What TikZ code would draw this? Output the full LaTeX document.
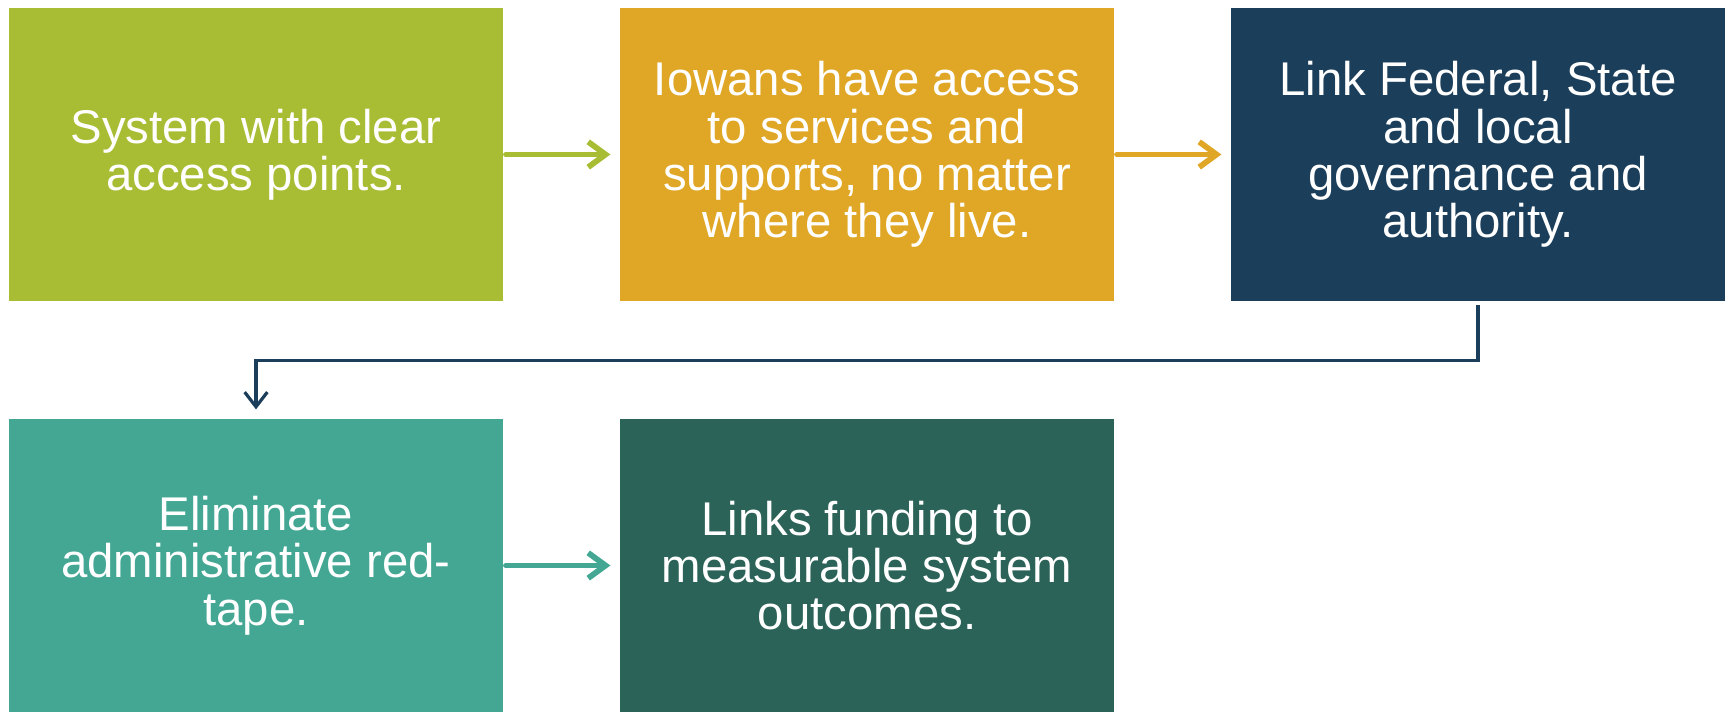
\documentclass[tikz,border=0pt]{standalone}
\usepackage{fontspec}
\setmainfont{Liberation Sans}
\usetikzlibrary{arrows.meta}

\definecolor{boxgreen}{RGB}{169,189,52}
\definecolor{boxorange}{RGB}{224,167,38}
\definecolor{boxnavy}{RGB}{27,62,90}
\definecolor{boxteal}{RGB}{67,167,148}
\definecolor{boxdark}{RGB}{44,99,89}

\begin{document}
\begin{tikzpicture}[
	x=0.75pt,
	y=-0.75pt,
	stage/.style={
		rectangle,
		inner sep=0pt,
		align=center,
		text=white,
		minimum width=370.5pt,
		minimum height=219.75pt,
		font=\fontsize{35.5}{35.5}\selectfont
	},
	link/.style={
		line width=4.3pt,
		line cap=round,
		-{Straight Barb[length=13pt,width=19pt,line width=4.3pt]},
		shorten <=2pt,
		shorten >=7pt
	},
	turn/.style={
		line width=2.4pt,
		-{Straight Barb[length=11pt,width=17pt,line width=2.4pt]},
		shorten <=3pt,
		shorten >=7pt
	},
]

\useasboundingbox (0,0) rectangle (1729,711);

% Top row
\node[stage,fill=boxgreen] (access) at (256,154.5) {System with clear\\access points.};
\node[stage,fill=boxorange] (iowans) at (867,154.5) {Iowans have access\\to services and\\supports, no matter\\where they live.};
\node[stage,fill=boxnavy] (govern) at (1478,154.5) {Link Federal, State\\and local\\governance and\\authority.};

% Bottom row
\node[stage,fill=boxteal] (redtape) at (256,565.5) {Eliminate\\administrative red-\\tape.};
\node[stage,fill=boxdark] (funding) at (867,565.5) {Links funding to\\measurable system\\outcomes.};

% Connections
\draw[link,draw=boxgreen] (access.east) -- (iowans.west);
\draw[link,draw=boxorange] (iowans.east) -- (govern.west);
\draw[turn,draw=boxnavy] (govern.south) -- ++(0,59) -| (redtape.north);
\draw[link,draw=boxteal] (redtape.east) -- (funding.west);

\end{tikzpicture}
\end{document}
